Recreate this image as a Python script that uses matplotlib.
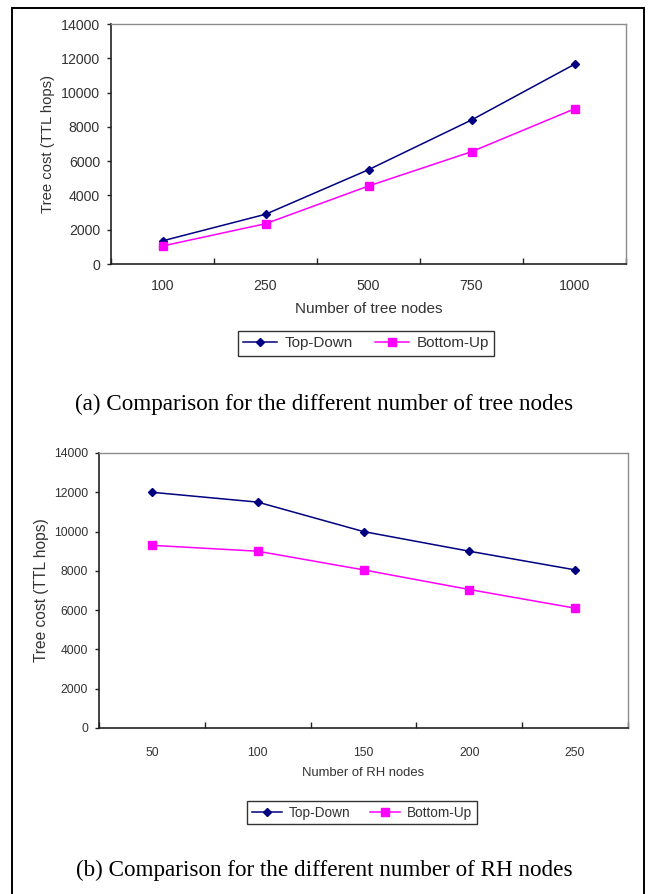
import matplotlib.pyplot as plt
from matplotlib.patches import Rectangle

# panel (a): number of tree nodes
tree_nodes = ['100', '250', '500', '750', '1000']
top_down_a = [1350, 2900, 5500, 8400, 11650]
bottom_up_a = [1050, 2350, 4550, 6550, 9050]

# panel (b): number of RH nodes
rh_nodes = ['50', '100', '150', '200', '250']
top_down_b = [12000, 11500, 10000, 9000, 8050]
bottom_up_b = [9300, 9000, 8050, 7050, 6100]

y_ticks = [0, 2000, 4000, 6000, 8000, 10000, 12000, 14000]

NAVY = '#000080'
MAGENTA = '#ff00ff'
TXT = '#333333'
SANS = ['Liberation Sans', 'DejaVu Sans']
SERIF = ['Liberation Serif', 'DejaVu Serif']


def draw_panel(ax, cats, td, bu, xlabel, ylab_x, xlab_y, fs_tick, fs_ylab, fs_xlab, xpad):
    x = list(range(len(cats)))
    l1, = ax.plot(x, td, color=NAVY, lw=1.1, marker='D', ms=4.5,
                  mec=NAVY, mfc=NAVY, label='Top-Down')
    l2, = ax.plot(x, bu, color=MAGENTA, lw=1.1, marker='s', ms=6,
                  mec=MAGENTA, mfc=MAGENTA, label='Bottom-Up')
    ax.set_xlim(-0.5, len(cats) - 0.5)
    ax.set_ylim(0, 14000)
    ax.set_yticks(y_ticks)
    ax.set_yticklabels([str(v) for v in y_ticks], family=SANS, fontsize=fs_tick, color=TXT)
    ax.set_xticks(x)
    ax.set_xticklabels(cats, family=SANS, fontsize=fs_tick, color=TXT)
    ax.set_xticks([i - 0.5 for i in range(len(cats) + 1)], minor=True)
    ax.tick_params(axis='x', which='major', length=0, pad=xpad)
    ax.tick_params(axis='x', which='minor', direction='in', length=4, width=1, color='#222222')
    ax.tick_params(axis='y', direction='out', length=3, width=1, color='#222222', pad=5)
    for s in ['left', 'bottom']:
        ax.spines[s].set_color('#222222')
        ax.spines[s].set_linewidth(1.2)
    for s in ['top', 'right']:
        ax.spines[s].set_color('#8c8c8c')
        ax.spines[s].set_linewidth(1.0)
    ax.set_ylabel('Tree cost (TTL hops)', family=SANS, fontsize=fs_ylab, color=TXT)
    ax.yaxis.set_label_coords(ylab_x, 0.5)
    ax.set_xlabel(xlabel, family=SANS, fontsize=fs_xlab, color=TXT)
    ax.xaxis.set_label_coords(0.5, xlab_y)
    return l1, l2


def add_legend(fig, handles, center, fs):
    leg = fig.legend(handles, ['Top-Down', 'Bottom-Up'], loc='center', ncol=2,
                     bbox_to_anchor=center, fancybox=False, edgecolor='black',
                     prop={'family': SANS, 'size': fs}, handlelength=2.2,
                     handletextpad=0.5, columnspacing=1.5, borderpad=0.35)
    leg.get_frame().set_linewidth(1.0)
    for t in leg.get_texts():
        t.set_color(TXT)


fig = plt.figure(figsize=(6.48, 8.94), dpi=100)

# outer frame
fig.patches.append(Rectangle((12 / 648, -0.05), (644 - 12) / 648, 1.05 - 8 / 894,
                             transform=fig.transFigure, fill=False,
                             edgecolor='black', lw=1.4))

ax1 = fig.add_axes([111 / 648, 1 - 264 / 894, 515 / 648, 240 / 894])
h = draw_panel(ax1, tree_nodes, top_down_a, bottom_up_a, 'Number of tree nodes',
               -0.109, -0.158, 10.2, 10.7, 11, 11)
add_legend(fig, h, (366 / 648, 1 - 343.5 / 894), 11)
fig.text(0.5, 1 - 404 / 894, '(a) Comparison for the different number of tree nodes',
         ha='center', va='center', family=SERIF, fontsize=16.7)

ax2 = fig.add_axes([99 / 648, 1 - 728 / 894, 529 / 648, 275 / 894])
h = draw_panel(ax2, rh_nodes, top_down_b, bottom_up_b, 'Number of RH nodes',
               -0.095, -0.142, 8.8, 11.2, 9.4, 14)
add_legend(fig, h, (362 / 648, 1 - 812.5 / 894), 9.8)
fig.text(0.5, 1 - 870 / 894, '(b) Comparison for the different number of RH nodes',
         ha='center', va='center', family=SERIF, fontsize=16.7)

fig.savefig('out.png', dpi=100)
